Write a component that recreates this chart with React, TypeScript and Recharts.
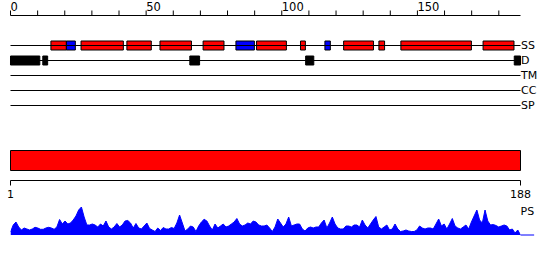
import React from 'react';
import { ComposedChart, XAxis, YAxis, ReferenceArea, ReferenceLine, Area } from 'recharts';

const SEQ_START = 0;
const SEQ_LEN = 188;
const TOP_TICKS = [0, 10, 20, 30, 40, 50, 60, 70, 80, 90, 100, 110, 120, 130, 140, 150, 160, 170, 180];
const TOP_LABELS = [0, 50, 100, 150];
const TRACKS = ['SS', 'D', 'TM', 'CC', 'SP'];

const HELICES: [number, number][] = [
  [14.9, 20.6], [26, 41.6], [42.9, 51.9], [55.1, 66.7], [71, 78.7], [90.7, 101.7],
  [106.9, 108.7], [122.8, 133.8], [135.8, 137.9], [143.9, 169.9], [174.2, 185.6],
];
const STRANDS: [number, number][] = [[20.6, 23.9], [83.1, 89.9], [115.9, 117.9]];
const DISORDER: [number, number][] = [[0, 10.8], [11.9, 13.7], [66.1, 69.7], [108.8, 111.8], [185.7, 188]];

const DOMAINS: [number, number][] = [[1, 188]];
const BOTTOM_TICKS = [1, 188];

const PS_VALUES = [
  3, 10, 13, 8, 5, 7, 6, 5, 6, 7.7, 7, 5.7, 5.7, 7, 7.7, 7, 5.7, 8, 15.5, 11,
  14, 11, 12, 15, 19, 25, 28, 18, 10, 10, 11, 10, 8, 11, 9, 14, 8, 6, 8, 11.5,
  8, 10, 14, 14.5, 12, 7, 11.5, 7, 6, 9, 12, 6.5, 5, 3.5, 7, 4.5, 7.5, 6, 6, 7.5,
  6.5, 12, 20, 12, 4, 6, 9, 8, 3.5, 9, 13, 15.7, 14, 9, 5, 11, 7, 9, 11, 8,
  9, 11, 13, 16.5, 11, 9, 10, 12, 11, 14, 13, 10, 9, 9, 10, 7, 3.5, 8, 16, 12,
  8, 11, 18, 9, 10, 11, 11, 6, 4, 7, 8, 7, 8, 8, 12, 15, 7, 12, 18, 11,
  7, 6, 6, 9, 9, 8, 10, 10, 8, 15, 10, 7, 11, 15, 18.5, 8, 6, 8, 10, 5,
  6, 11, 6, 3.5, 4, 5, 4, 3.5, 3.5, 5, 9, 7, 6, 7, 7, 6, 11, 16, 9, 11,
  6, 11, 16.5, 9, 7, 6, 8, 10, 6, 13, 19, 25, 15, 12, 25, 14, 10, 10.5, 9.5, 8,
  9, 10, 9, 5, 6, 2, 5, 0,
];

const psData = PS_VALUES.map((v, i) => ({ pos: i + 1, ps: v }));

const RED = '#ff0000';
const BLUE = '#0000ff';
const BLACK = '#000000';
const BOX_HALF = 0.3;

const TopTick = (props: any) => {
  const { x, y, payload } = props;
  if (!TOP_LABELS.includes(payload.value)) return <g />;
  return (
    <text x={x} y={y} textAnchor="start" fontSize={11.5} fill={BLACK}>
      {payload.value}
    </text>
  );
};

export default function App() {
  return (
    <div
      style={{
        position: 'absolute',
        left: 0,
        top: 0,
        width: 550,
        height: 260,
        background: '#fff',
        fontFamily: '"DejaVu Sans", sans-serif',
      }}
    >
      {/* Top: residue axis and tracks */}
      <div style={{ position: 'absolute', left: 0, top: 0 }}>
        <ComposedChart width={550} height={121} margin={{ top: 0.5, right: 29.5, bottom: 0.5, left: 10.5 }}>
          <XAxis
            type="number"
            dataKey="pos"
            orientation="top"
            domain={[SEQ_START, SEQ_LEN]}
            ticks={TOP_TICKS}
            interval={0}
            height={15}
            tickSize={5}
            tickMargin={0}
            tick={<TopTick />}
            stroke={BLACK}
            allowDataOverflow
          />
          <YAxis type="number" domain={[-2, 5]} reversed hide allowDataOverflow />
          {TRACKS.map((t, i) => (
            <ReferenceLine
              key={t}
              y={i}
              stroke={BLACK}
              strokeWidth={1}
              label={{ value: t, position: 'right', offset: 0.5, fontSize: 11, fill: BLACK }}
            />
          ))}
          {HELICES.map(([s, e], k) => (
            <ReferenceArea
              key={'h' + k}
              x1={s}
              x2={e}
              y1={0 - BOX_HALF}
              y2={0 + BOX_HALF}
              fill={RED}
              fillOpacity={1}
              stroke={BLACK}
              strokeWidth={1}
            />
          ))}
          {STRANDS.map(([s, e], k) => (
            <ReferenceArea
              key={'e' + k}
              x1={s}
              x2={e}
              y1={0 - BOX_HALF}
              y2={0 + BOX_HALF}
              fill={BLUE}
              fillOpacity={1}
              stroke={BLACK}
              strokeWidth={1}
            />
          ))}
          {DISORDER.map(([s, e], k) => (
            <ReferenceArea
              key={'d' + k}
              x1={s}
              x2={e}
              y1={1 - BOX_HALF}
              y2={1 + BOX_HALF}
              fill={BLACK}
              fillOpacity={1}
              stroke={BLACK}
              strokeWidth={1}
            />
          ))}
        </ComposedChart>
      </div>

      {/* Middle: domain bar with bottom axis */}
      <div style={{ position: 'absolute', left: 0, top: 0 }}>
        <ComposedChart width={550} height={211} margin={{ top: 150.5, right: 29.5, bottom: 0.5, left: 10.5 }}>
          <XAxis
            type="number"
            dataKey="pos"
            orientation="bottom"
            domain={[1, SEQ_LEN]}
            ticks={BOTTOM_TICKS}
            interval={0}
            height={30}
            tickSize={5}
            tickMargin={5}
            tick={{ fontSize: 11, fill: BLACK }}
            stroke={BLACK}
            allowDataOverflow
          />
          <YAxis type="number" domain={[0, 30]} reversed hide allowDataOverflow />
          {DOMAINS.map(([s, e], k) => (
            <ReferenceArea
              key={'dom' + k}
              x1={s}
              x2={e}
              y1={0}
              y2={20}
              fill={RED}
              fillOpacity={1}
              stroke={BLACK}
              strokeWidth={1}
            />
          ))}
        </ComposedChart>
      </div>

      {/* Bottom: PS profile */}
      <div style={{ position: 'absolute', left: 0, top: 0 }}>
        <ComposedChart width={550} height={240} data={psData} margin={{ top: 205, right: 29.5, bottom: 5, left: 10.5 }}>
          <XAxis type="number" dataKey="pos" domain={[1, SEQ_LEN]} hide allowDataOverflow />
          <YAxis type="number" domain={[0, 30]} hide allowDataOverflow />
          <Area
            type="linear"
            dataKey="ps"
            fill={BLUE}
            fillOpacity={1}
            stroke={BLUE}
            strokeWidth={1}
            dot={false}
            activeDot={false}
            isAnimationActive={false}
          />
          <ReferenceLine
            segment={[{ x: SEQ_LEN, y: 0 }, { x: 193, y: 0 }]}
            ifOverflow="visible"
            stroke={BLUE}
            strokeWidth={1}
            label={{ value: 'PS', position: 'top', offset: 20, fontSize: 11, fill: BLACK }}
          />
        </ComposedChart>
      </div>
    </div>
  );
}
